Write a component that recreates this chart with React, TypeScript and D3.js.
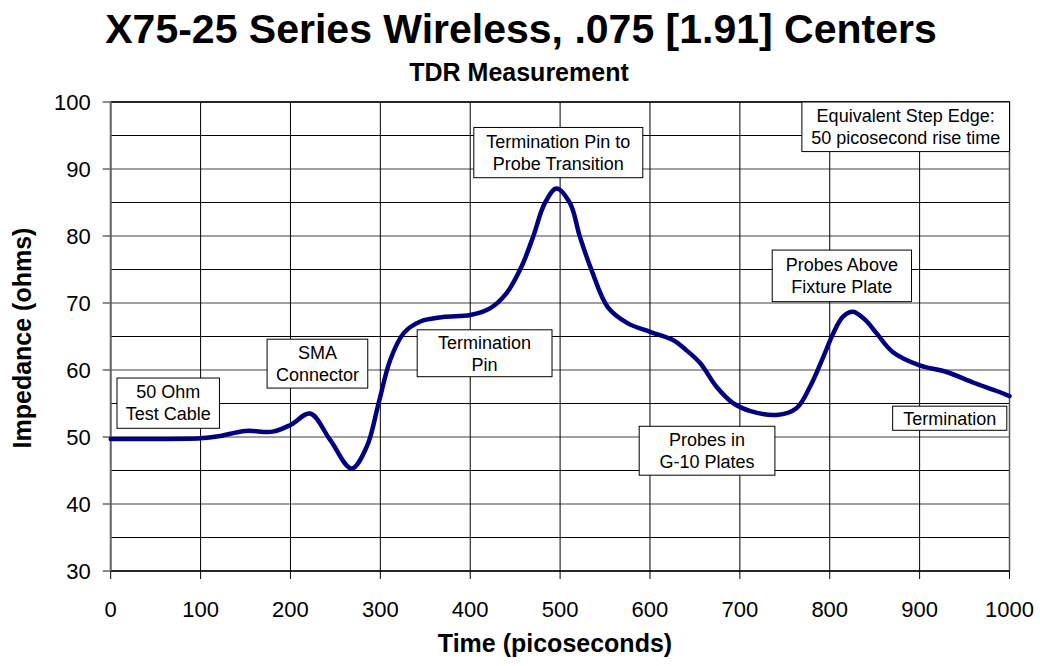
import React from "react";
import * as d3 from "d3";

const timePs = [0, 50, 100, 120, 150, 180, 200, 222, 244, 268, 285, 298, 311, 326, 344, 370, 400, 422, 440, 457, 470, 483, 496, 511, 522, 535, 553, 575, 600, 625, 640, 656, 674, 692, 711, 741, 763, 778, 793, 804, 815, 826, 840, 852, 870, 900, 930, 960, 985, 1000];
const impedanceOhm = [49.7, 49.7, 49.8, 50.1, 50.9, 50.8, 51.8, 53.5, 49.6, 45.3, 48.6, 55.0, 61.5, 65.5, 67.2, 67.9, 68.2, 69.2, 71.4, 75.4, 79.9, 84.9, 87.1, 84.9, 79.9, 74.9, 69.4, 67.0, 65.7, 64.5, 63.0, 61.0, 57.5, 55.1, 53.9, 53.3, 54.3, 57.5, 62.0, 65.5, 68.0, 68.7, 67.4, 65.5, 62.7, 60.7, 59.7, 58.1, 56.9, 56.1];

const xTicks = [0, 100, 200, 300, 400, 500, 600, 700, 800, 900, 1000];
const yTicks = [30, 40, 50, 60, 70, 80, 90, 100];
const yMinorTicks = [35, 45, 55, 65, 75, 85, 95];

const annotationLabels = [
  ["50 Ohm", "Test Cable"],
  ["SMA", "Connector"],
  ["Termination", "Pin"],
  ["Termination Pin to", "Probe Transition"],
  ["Probes in", "G-10 Plates"],
  ["Probes Above", "Fixture Plate"],
  ["Termination"],
  ["Equivalent Step Edge:", "50 picosecond rise time"],
];
// box layout: [x0 (ps), x1 (ps), yTop (ohm), yBottom (ohm)]
const annotationBoxes = [
  [7, 121, 58.8, 51.3],
  [174, 286, 64.6, 57.3],
  [341, 491, 66.0, 59.0],
  [404, 592, 96.2, 88.7],
  [588, 739, 51.6, 44.3],
  [736, 891, 77.9, 70.2],
  [870, 997, 54.6, 51.0],
  [769, 1000, 100, 92.6],
];

const W = 1040;
const H = 666;
const M = { left: 110.7, right: 1009.5, top: 102, bottom: 571 };
const FONT = "Arial, 'Liberation Sans', Helvetica, sans-serif";

export default function App() {
  const x = d3.scaleLinear().domain([0, 1000]).range([M.left, M.right]);
  const y = d3.scaleLinear().domain([30, 100]).range([M.bottom, M.top]);
  const pts: [number, number][] = timePs.map((t, i) => [t, impedanceOhm[i]]);
  const line = d3
    .line<[number, number]>()
    .x((d) => x(d[0]))
    .y((d) => y(d[1]))
    .curve(d3.curveCatmullRom.alpha(0.5));

  return (
    <svg width={W} height={H} style={{ position: "absolute", left: 0, top: 0, background: "#fff" }} fontFamily={FONT}>
      <rect x={0} y={0} width={W} height={H} fill="#fff" />
      <text x={521} y={43} textAnchor="middle" fontSize={41} fontWeight="bold">
        X75-25 Series Wireless, .075 [1.91] Centers
      </text>
      <text x={519} y={81} textAnchor="middle" fontSize={25} fontWeight="bold">
        TDR Measurement
      </text>

      {yMinorTicks.map((v) => (
        <line key={"m" + v} x1={M.left} x2={M.right} y1={y(v)} y2={y(v)} stroke="#000" strokeWidth={1} />
      ))}
      {yTicks.map((v) => (
        <line key={"g" + v} x1={M.left} x2={M.right} y1={y(v)} y2={y(v)} stroke="#808080" strokeWidth={1.5} />
      ))}
      {xTicks.map((v) => (
        <line key={"v" + v} x1={x(v)} x2={x(v)} y1={M.top} y2={M.bottom} stroke="#000" strokeWidth={1} />
      ))}
      <line x1={M.left} x2={M.right} y1={M.top} y2={M.top} stroke="#000" strokeWidth={1.5} />
      <line x1={M.right} x2={M.right} y1={M.top} y2={M.bottom} stroke="#555" strokeWidth={1.5} />
      <line x1={M.left} x2={M.right} y1={M.bottom} y2={M.bottom} stroke="#000" strokeWidth={1.5} />
      <line x1={M.left} x2={M.left} y1={M.top} y2={M.bottom} stroke="#666" strokeWidth={2} />

      {yTicks.map((v) => (
        <g key={"yt" + v}>
          <line x1={M.left - 8} x2={M.left} y1={y(v)} y2={y(v)} stroke="#666" strokeWidth={1.5} />
          <text x={M.left - 20} y={y(v)} dy="0.36em" textAnchor="end" fontSize={22}>
            {v}
          </text>
        </g>
      ))}
      {xTicks.map((v) => (
        <g key={"xt" + v}>
          <line x1={x(v)} x2={x(v)} y1={M.bottom} y2={M.bottom + 8} stroke="#000" strokeWidth={1} />
          <text x={x(v)} y={617} textAnchor="middle" fontSize={22}>
            {v}
          </text>
        </g>
      ))}

      <path d={line(pts) || ""} fill="none" stroke="#000080" strokeWidth={4.5} strokeLinejoin="round" strokeLinecap="round" />

      {annotationLabels.map((lines, i) => {
        const [t0, t1, yt, yb] = annotationBoxes[i];
        const bx = x(t0);
        const bw = x(t1) - x(t0);
        const by = y(yt);
        const bh = y(yb) - y(yt);
        const cx = bx + bw / 2;
        const lh = 22;
        const startY = by + bh / 2 - ((lines.length - 1) * lh) / 2;
        return (
          <g key={"a" + i}>
            <rect x={bx} y={by} width={bw} height={bh} fill="#fff" stroke="#000" strokeWidth={1} />
            {lines.map((s, j) => (
              <text key={j} x={cx} y={startY + j * lh} dy="0.35em" textAnchor="middle" fontSize={18}>
                {s}
              </text>
            ))}
          </g>
        );
      })}

      <text x={555} y={652} textAnchor="middle" fontSize={25} fontWeight="bold">
        Time (picoseconds)
      </text>
      <text transform="translate(31,338) rotate(-90)" textAnchor="middle" fontSize={25} fontWeight="bold">
        Impedance (ohms)
      </text>
    </svg>
  );
}
